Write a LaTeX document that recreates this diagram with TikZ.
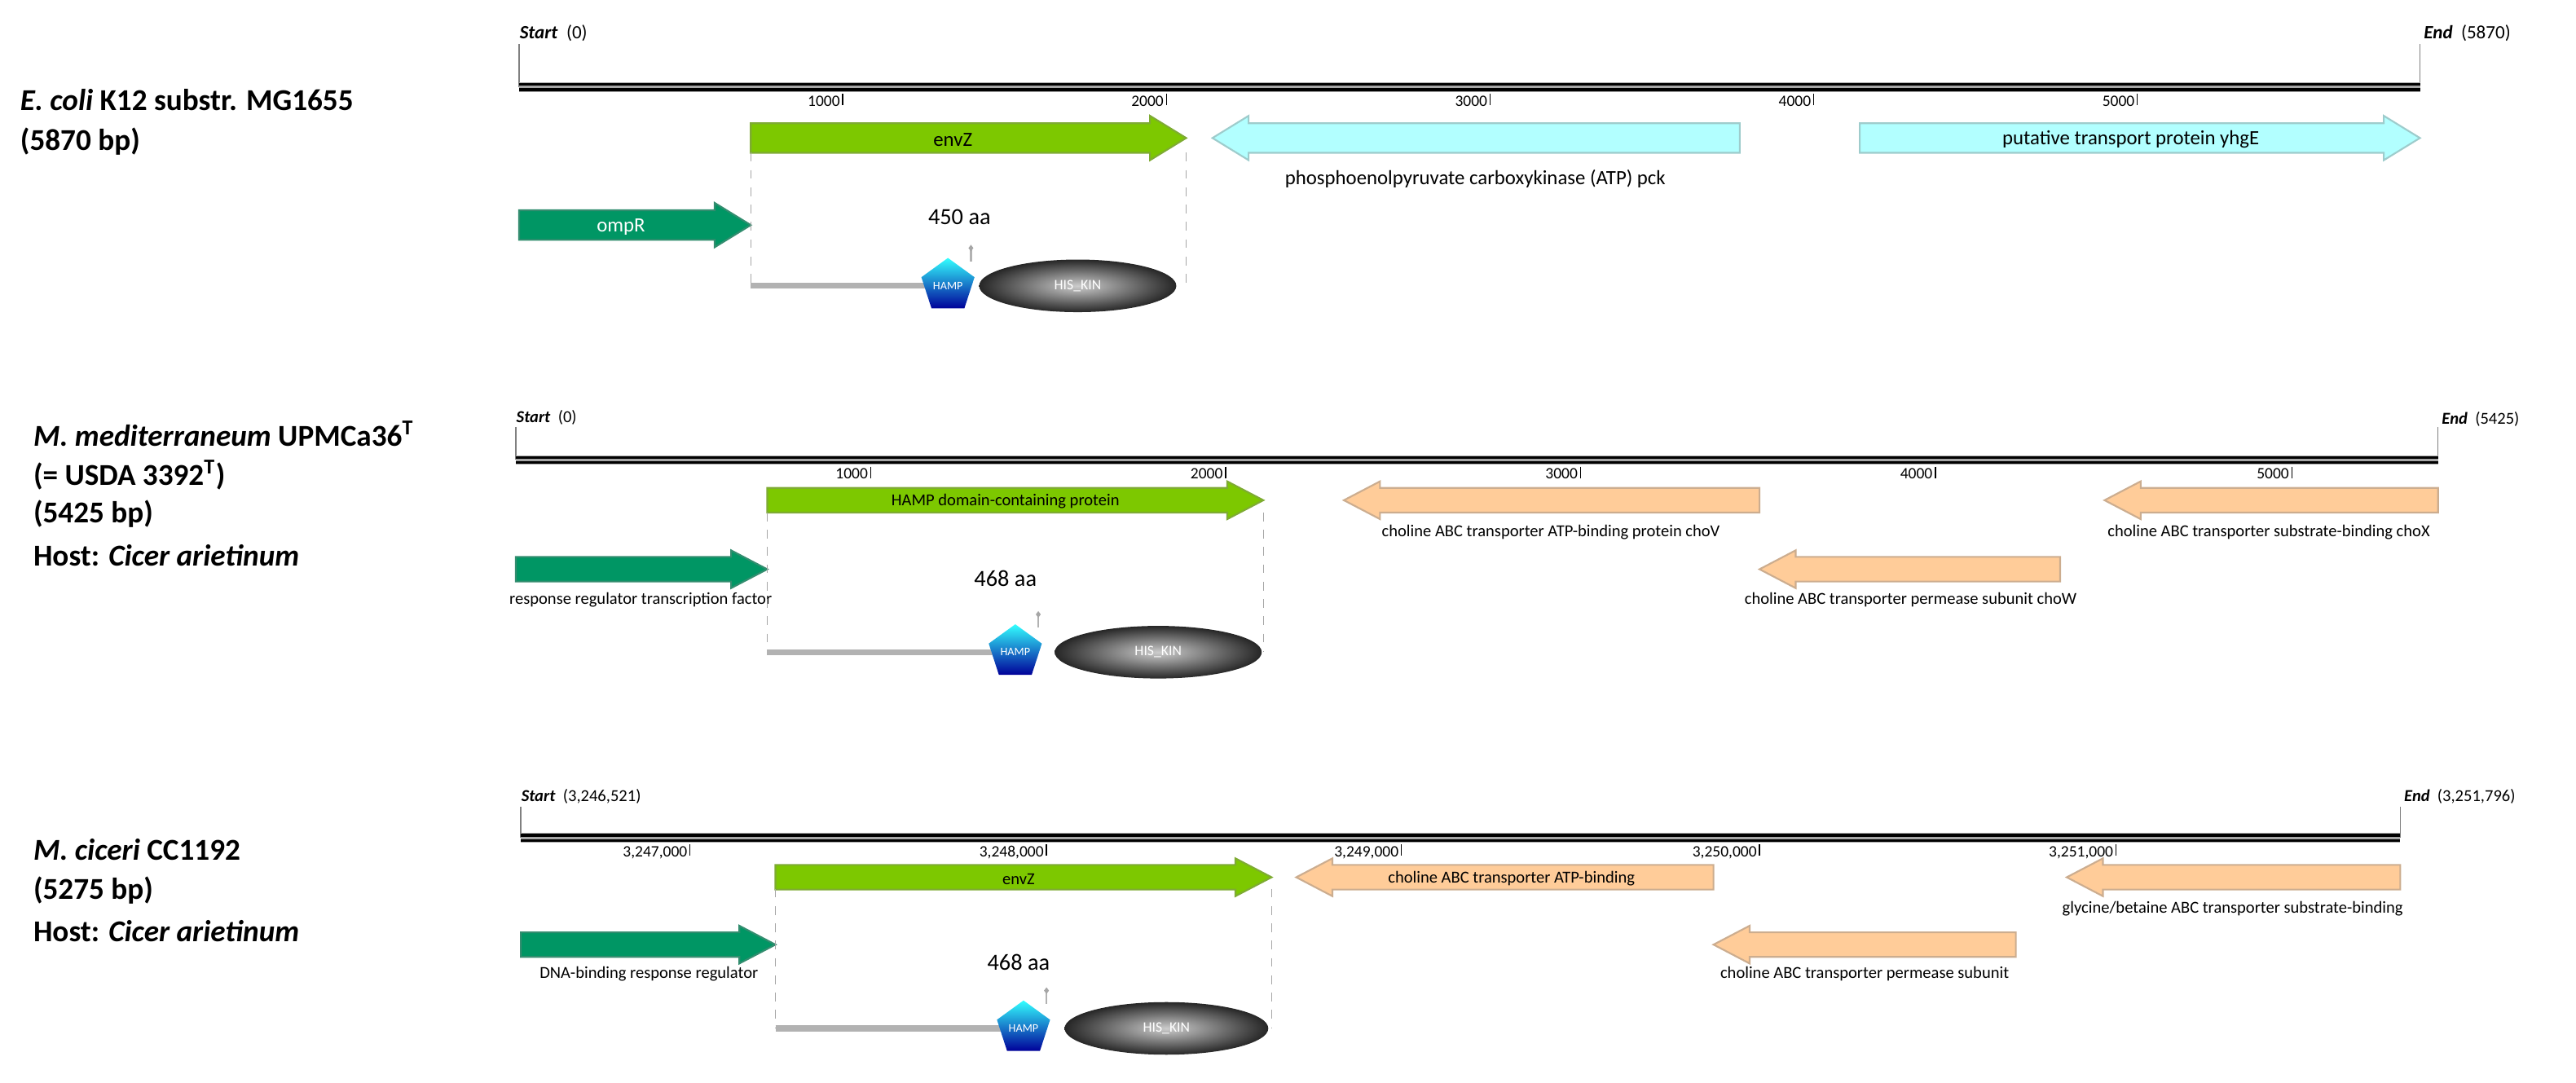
\documentclass[tikz,border=0pt]{standalone}
\usepackage{fontspec}
\setmainfont{Carlito}
\usetikzlibrary{shapes.geometric}
\definecolor{envg}{RGB}{125,200,0}
\definecolor{rrg}{RGB}{0,150,100}
\definecolor{cyn}{RGB}{178,255,255}
\definecolor{org}{RGB}{255,204,153}
\newcommand\gR[6]{\filldraw[draw=#6!60!gray,fill=#6,line width=0.6pt] (#1,{#3-#4}) -- ({#2-22},{#3-#4}) -- ({#2-22},{#3-#5}) -- (#2,#3) -- ({#2-22},{#3+#5}) -- ({#2-22},{#3+#4}) -- (#1,{#3+#4}) -- cycle;}
\newcommand\gL[6]{\filldraw[draw=#6!60!gray,fill=#6,line width=0.6pt] (#2,{#3-#4}) -- ({#1+22},{#3-#4}) -- ({#1+22},{#3-#5}) -- (#1,#3) -- ({#1+22},{#3+#5}) -- ({#1+22},{#3+#4}) -- (#2,{#3+#4}) -- cycle;}
\newcommand\track[3]{\draw[gray!70,line width=3.2pt] (#1,#3) -- (#2,#3);
 \draw[black,line width=0.9pt] (#1,{#3-1.6}) -- (#2,{#3-1.6}); \draw[black,line width=0.9pt] (#1,{#3+1.6}) -- (#2,{#3+1.6});}
\newcommand\tk[3]{\draw[black,line width=0.4pt] (#1,{#2+4}) -- (#1,{#2+11});
 \node[tick,anchor=north east] at ({#1-0.5},{#2+4}) {#3};}
\newcommand\prot[7]{% x1 x2 ytop yline hampx ellx rx
 \draw[gray!70,dashed,line width=0.4pt] (#1,#3) -- (#1,#4) (#2,#3) -- (#2,#4);
 \draw[gray!60,line width=2pt] (#1,#4) -- (#5,#4);
 \draw[gray!60,line width=0.6pt] ({#5+14},{#4-23}) -- ({#5+14},{#4-15});
 \fill[gray!70] ({#5+14},{#4-25}) -- ({#5+15.5},{#4-23}) -- ({#5+14},{#4-21}) -- ({#5+12.5},{#4-23}) -- cycle;
 \node[regular polygon,regular polygon sides=5,minimum size=0.68cm,inner sep=0pt,top color=cyan!80!white,bottom color=blue!60!black,font=\fontsize{4}{4}\selectfont,text=white] at (#5,#4) {HAMP};
 \shade[outer color=black!85,inner color=gray!40] (#6,#4) ellipse [x radius=#7, y radius=16];
 \node[text=white,font=\fontsize{5}{5}\selectfont] at (#6,#4) {HIS\_KIN};}
\tikzset{tick/.style={font=\fontsize{5.5}{6}\selectfont,inner sep=0.5pt},
 lab/.style={font=\fontsize{7}{8}\selectfont,inner sep=0pt},
 slab/.style={font=\fontsize{5.8}{7}\selectfont,inner sep=0pt},
 side/.style={font=\bfseries\fontsize{10.5}{12}\selectfont,anchor=west,inner sep=0pt},
 se/.style={font=\fontsize{6.5}{7}\selectfont,anchor=west,inner sep=0pt},
 aa/.style={font=\fontsize{8}{9}\selectfont,inner sep=0pt}}
\begin{document}
\begin{tikzpicture}[x=0.02cm,y=-0.02cm]
\useasboundingbox (0,0) rectangle (1568,659);
% ---------- Panel 1
\node[side] (t1a) at (12,61) {\textit{E. coli} K12 substr. MG1655};
\node[side] (t1b) at (12,86) {(5870 bp)};
\draw[gray,line width=0.4pt] (316,27) -- (316,53) (1473,27) -- (1473,53);
\node[se] (s1) at (316,20) {\textbf{\textit{Start}}\ \ (0)};
\node[se] (e1) at (1475,20) {\textbf{\textit{End}}\ \ (5870)};
\track{316}{1473}{53}
\tk{513}{53}{1000}\tk{710}{53}{2000}\tk{907}{53}{3000}\tk{1104}{53}{4000}\tk{1301}{53}{5000}
\gR{457}{722}{84}{9}{13.5}{envg}
\node[lab] (envz1) at (580,85) {envZ};
\gL{738}{1059}{84}{9}{13.5}{cyn}
\node[lab] (pck) at (898,109) {phosphoenolpyruvate carboxykinase (ATP) pck};
\gR{1132}{1473}{84}{9}{13.5}{cyn}
\node[lab] (yhge) at (1297,85) {putative transport protein yhgE};
\gR{316}{457}{137}{9}{13.5}{rrg}
\node[lab,text=white] (ompr) at (378,138) {ompR};
\node[aa] (aa1) at (584,132) {450 aa};
\prot{457}{722}{93}{174}{577}{656}{60}
% ---------- Panel 2
\node[side] at (20,264) {\textit{M. mediterraneum} UPMCa36\textsuperscript{T}};
\node[side] at (20,289) {(= USDA 3392\textsuperscript{T})};
\node[side] at (20,313) {(5425 bp)};
\node[side] at (20,338) {Host: \textit{Cicer arietinum}};
\draw[gray,line width=0.4pt] (314,260) -- (314,280) (1484,260) -- (1484,280);
\node[se,font=\fontsize{5.8}{7}\selectfont] at (314,254) {\textbf{\textit{Start}}\ \ (0)};
\node[se,font=\fontsize{5.8}{7}\selectfont] at (1486,255) {\textbf{\textit{End}}\ \ (5425)};
\track{314}{1484}{280}
\tk{530}{280}{1000}\tk{746}{280}{2000}\tk{962}{280}{3000}\tk{1178}{280}{4000}\tk{1395}{280}{5000}
\gR{467}{769}{304.5}{7.5}{11.5}{envg}
\node[slab] at (612,305) {HAMP domain-containing protein};
\gL{818}{1071}{304.5}{7.5}{11.5}{org}
\node[slab] at (944,324) {choline ABC transporter ATP-binding protein choV};
\gL{1281}{1484}{304.5}{7.5}{11.5}{org}
\node[slab] at (1381,324) {choline ABC transporter substrate-binding choX};
\gL{1071}{1254}{346.5}{7.5}{11.5}{org}
\node[slab] at (1163,365) {choline ABC transporter permease subunit choW};
\gR{314}{467}{346.5}{7.5}{11.5}{rrg}
\node[slab] at (390,365) {response regulator transcription factor};
\node[aa] at (612,352) {468 aa};
\prot{467}{769}{312}{397}{618}{705}{63}
% ---------- Panel 3
\node[side] at (20,517) {\textit{M. ciceri} CC1192};
\node[side] at (20,542) {(5275 bp)};
\node[side] at (20,567) {Host: \textit{Cicer arietinum}};
\draw[gray,line width=0.4pt] (317,491) -- (317,510) (1461,491) -- (1461,510);
\node[se,font=\fontsize{5.8}{7}\selectfont] at (317,485) {\textbf{\textit{Start}}\ \ (3,246,521)};
\node[se,font=\fontsize{5.8}{7}\selectfont] at (1463,485) {\textbf{\textit{End}}\ \ (3,251,796)};
\track{317}{1461}{510}
\tk{420}{510}{3,247,000}\tk{637}{510}{3,248,000}\tk{853}{510}{3,249,000}\tk{1071}{510}{3,250,000}\tk{1288}{510}{3,251,000}
\gR{472}{774}{534}{7.5}{11.5}{envg}
\node[slab] at (620,535) {envZ};
\gL{789}{1043}{534}{7.5}{11.5}{org}
\node[slab] at (920,535) {choline ABC transporter ATP-binding};
\gL{1258}{1461}{534}{7.5}{11.5}{org}
\node[slab] at (1359,553) {glycine/betaine ABC transporter substrate-binding};
\gL{1043}{1227}{575}{7.5}{11.5}{org}
\node[slab] at (1135,593) {choline ABC transporter permease subunit};
\gR{317}{472}{575}{7.5}{11.5}{rrg}
\node[slab] at (395,593) {DNA-binding response regulator};
\node[aa] at (620,586) {468 aa};
\prot{472}{774}{541}{626}{623}{710}{62}
\end{tikzpicture}
\end{document}
